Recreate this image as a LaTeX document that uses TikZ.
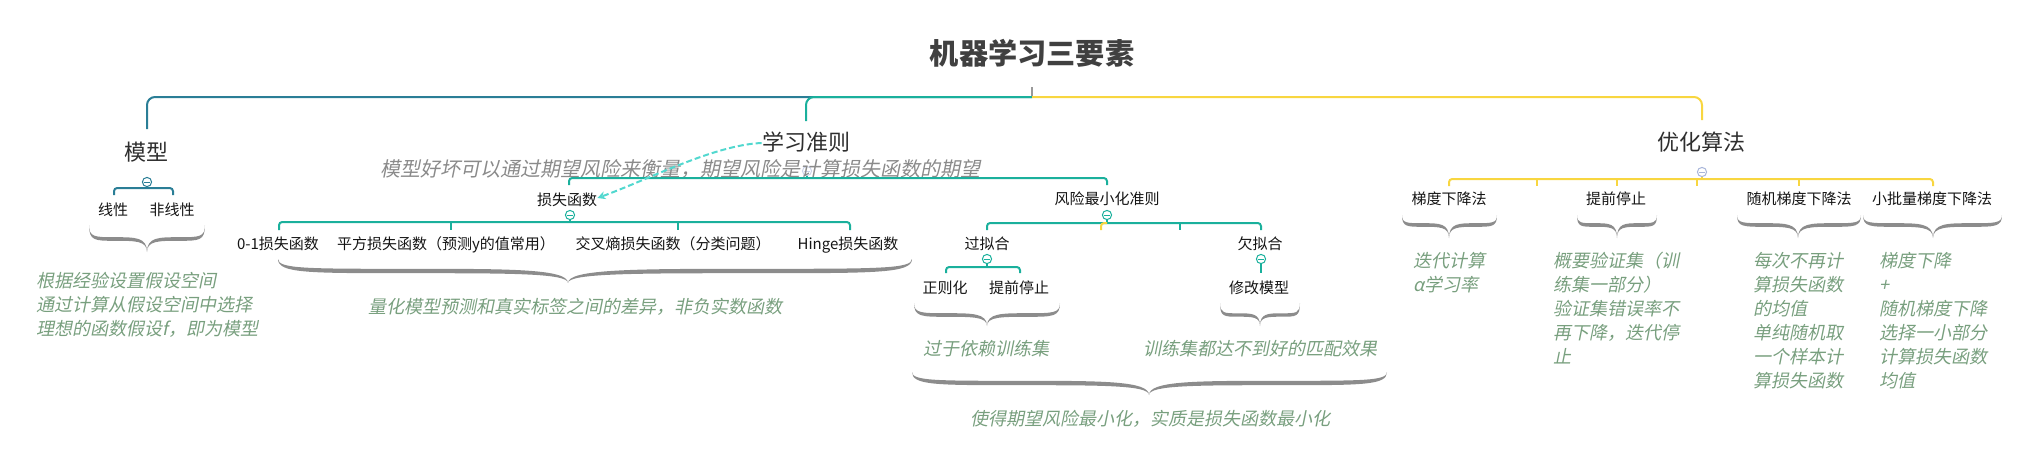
\documentclass[tikz,border=0pt]{standalone}
\usepackage{fontspec}
\setmainfont{Noto Sans CJK SC}
\newfontfamily\itf{Noto Sans CJK SC}[FakeSlant=0.2]
\usetikzlibrary{arrows.meta}
\definecolor{cM}{HTML}{2A7E96}
\definecolor{cL}{HTML}{1AB09C}
\definecolor{cY}{HTML}{F8D640}
\definecolor{cD}{HTML}{52D8CF}
\definecolor{cG}{HTML}{789F7E}
\definecolor{cN}{HTML}{8A8A8A}
\definecolor{bracecol}{HTML}{8C8C8C}
\definecolor{cC}{HTML}{A9B6DA}
\newcommand\xbrace[7]{%
 \pgfmathsetmacro\brxa{#1}\pgfmathsetmacro\brxb{#2}\pgfmathsetmacro\brxt{#3}%
 \pgfmathsetmacro\brye{#4}\pgfmathsetmacro\bryt{#6}%
 \pgfmathsetmacro\brlo{#5+#7/2}\pgfmathsetmacro\brhi{#5-#7/2}%
 \pgfmathsetmacro\brL{#3-#1}\pgfmathsetmacro\brR{#2-#3}%
 \pgfmathsetmacro\brxml{#1+0.45*\brL}\pgfmathsetmacro\brxmr{#2-0.45*\brR}%
 \pgfmathsetmacro\brcla{#1+0.1*\brL}\pgfmathsetmacro\brclb{#3-0.2*\brL}%
 \pgfmathsetmacro\brcra{#2-0.1*\brR}\pgfmathsetmacro\brcrb{#3+0.2*\brR}%
 \fill[bracecol] (\brxa,\brye)
  .. controls (\brxa,\brlo) and (\brcla,\brlo) .. (\brxml,\brlo)
  .. controls (\brclb,\brlo) and (\brxt,\brlo) .. (\brxt,\bryt)
  .. controls (\brxt,\brlo) and (\brcrb,\brlo) .. (\brxmr,\brlo)
  .. controls (\brcra,\brlo) and (\brxb,\brlo) .. (\brxb,\brye)
  .. controls (\brxb,\brhi) and (\brcra,\brhi) .. (\brxmr,\brhi)
  .. controls (\brcrb,\brhi) and (\brxt,\brhi) .. (\brxt,\bryt)
  .. controls (\brxt,\brhi) and (\brclb,\brhi) .. (\brxml,\brhi)
  .. controls (\brcla,\brhi) and (\brxa,\brhi) .. (\brxa,\brye) -- cycle;
}
\begin{document}
\begin{tikzpicture}[x=0.5pt,y=-0.5pt,
  every node/.style={inner sep=0pt},
  titl/.style={font=\bfseries\fontsize{14.6}{16}\selectfont, text=black!75},
  mainn/.style={font=\fontsize{11}{13}\selectfont, text=black!82, text height=0.88em, text depth=0.12em},
  leaf/.style={font=\fontsize{7.5}{9}\selectfont, text=black!92, text height=0.88em, text depth=0.12em},
  summ/.style={font=\itf\fontsize{9}{12}\selectfont, text=cG, align=left},
  summc/.style={font=\itf\fontsize{9}{12}\selectfont, text=cG, text height=0.88em, text depth=0.12em},
  notet/.style={font=\itf\fontsize{10}{12}\selectfont, text=cN, text height=0.88em, text depth=0.12em},
  ln/.style={line width=1pt, rounded corners=1.6pt},
  mln/.style={line width=1pt, rounded corners=4pt},
  tog/.style={circle, draw=#1, fill=white, line width=0.5pt, minimum size=4.6pt,
    path picture={\draw[#1, line width=0.45pt] ([xshift=-1.3pt]path picture bounding box.center) -- ([xshift=1.3pt]path picture bounding box.center);}},
  dasharrow/.style={cD, line width=1pt, dash pattern=on 3pt off 1.5pt, -{Stealth[length=4pt,width=4pt]}}
]
\useasboundingbox (0,0) rectangle (2020,451);

% ---------- root ----------
\node[titl] (root) at (1032,53) {机器学习三要素};
\coordinate (rstub) at (1032,87);
\coordinate (hub) at (1032,97);
\draw[black!40, line width=0.6pt] (rstub) -- (hub);

% ---------- main branches ----------
\node[mainn] (mdl) at (146,153) {模型};
\node[mainn] (lc) at (806,143) {学习准则};
\node[mainn] (opt) at (1701,143) {优化算法};
\coordinate (mdlin) at (147,129);
\coordinate (lcin) at (806,121);
\coordinate (optin) at (1702,120);
\draw[mln, cM] (hub) -| (mdlin);
\draw[mln, cL] (hub) -| (lcin);
\draw[mln, cY] (hub) -| (optin);

% ---------- 模型 ----------
\node[tog=cM] (tm) at (147,182) {};
\coordinate (tmj) at (147,188);
\coordinate (lin-in) at (114,195);
\coordinate (nlin-in) at (173,195);
\draw[ln, cM] (tm.south) -- (tmj);
\draw[ln, cM] (lin-in) |- (tmj) -| (nlin-in);
\node[leaf] (lin) at (113,208) {线性};
\node[leaf] (nlin) at (172,208) {非线性};
\xbrace{89}{205}{147}{225}{239}{252}{3.6}
\node[summ, anchor=north west] (mdlsum) at (36,272) {根据经验设置假设空间\\通过计算从假设空间中选择\\理想的函数假设f，即为模型};

% ---------- 学习准则 ----------
\node[tog=cC, draw opacity=0.6] (tl) at (807,171) {};
\node[notet] (note) at (680,169) {模型好坏可以通过期望风险来衡量，期望风险是计算损失函数的期望};
\coordinate (tlj) at (807,178);
\coordinate (lf-in) at (569,185);
\coordinate (rm-in) at (1107,185);
\draw[ln, cL] (tl.south) -- (tlj);
\draw[ln, cL] (lf-in) |- (tlj) -| (rm-in);

\node[leaf] (lf) at (567,198) {损失函数};
\node[leaf] (rm) at (1107,197) {风险最小化准则};
\draw[dasharrow] (lc.west) .. controls +(-48,2) and +(50,-18) .. (lf.east);

% 损失函数 subtree
\node[tog=cL] (tlf) at (570,215) {};
\coordinate (tlfj) at (570,222);
\coordinate (l1in) at (279,230);
\coordinate (l2in) at (451,230);
\coordinate (l3in) at (678,230);
\coordinate (l4in) at (850,230);
\coordinate (l2j) at (451,222);
\coordinate (l3j) at (678,222);
\draw[ln, cL] (tlf.south) -- (tlfj);
\draw[ln, cL] (l1in) |- (tlfj) -| (l4in);
\draw[ln, cL] (l2j) -- (l2in);
\draw[ln, cL] (l3j) -- (l3in);
\node[leaf] (l1) at (278,242) {0-1损失函数};
\node[leaf] (l2) at (446,242) {平方损失函数（预测y的值常用）};
\node[leaf] (l3) at (673,242) {交叉熵损失函数（分类问题）};
\node[leaf] (l4) at (848,242) {Hinge损失函数};
\xbrace{278}{912}{568}{259}{271}{283}{4.4}
\node[summc] (lfsum) at (575,306) {量化模型预测和真实标签之间的差异，非负实数函数};

% 风险最小化准则 subtree
\node[tog=cL] (trm) at (1107,215) {};
\coordinate (trmj) at (1107,223);
\coordinate (of-in) at (987,230);
\coordinate (uf-in) at (1261,230);
\coordinate (ex1) at (1101,230);
\coordinate (ex2a) at (1180,223);
\coordinate (ex2) at (1180,230);
\draw[ln, cL] (trm.south) -- (trmj);
\draw[ln, cL] (of-in) |- (trmj) -| (uf-in);
\draw[ln, cY] (trmj) -| (ex1);
\draw[ln, cL] (ex2a) -- (ex2);
\node[leaf] (of) at (987,242) {过拟合};
\node[leaf] (uf) at (1260,242) {欠拟合};

\node[tog=cL] (tof) at (987,259) {};
\coordinate (tofj) at (987,267);
\coordinate (reg-in) at (946,273);
\coordinate (es-in) at (1020,273);
\draw[ln, cL] (tof.south) -- (tofj);
\draw[ln, cL] (reg-in) |- (tofj) -| (es-in);
\node[leaf] (reg) at (945,286) {正则化};
\node[leaf] (es) at (1019,286) {提前停止};
\xbrace{914}{1060}{987}{303}{315}{326}{3.6}
\node[summc] (ofsum) at (986,348) {过于依赖训练集};

\node[tog=cL] (tuf) at (1261,259) {};
\coordinate (mm-in) at (1261,273);
\draw[ln, cL] (tuf.south) -- (mm-in);
\node[leaf] (mm) at (1259,286) {修改模型};
\xbrace{1220}{1300}{1260}{303}{315}{326}{3.4}
\node[summc] (ufsum) at (1260,348) {训练集都达不到好的匹配效果};

\xbrace{912}{1387}{1149}{372}{383}{395}{4.4}
\node[summc] (rmsum) at (1150,418) {使得期望风险最小化，实质是损失函数最小化};

% ---------- 优化算法 ----------
\node[tog=cC] (topt) at (1702,172) {};
\coordinate (toptj) at (1702,179);
\coordinate (g1in) at (1449,186);
\coordinate (g6in) at (1933,186);
\draw[ln, cY] (topt.south) -- (toptj);
\draw[ln, cY] (g1in) |- (toptj) -| (g6in);
\foreach \sx [count=\si] in {1537,1617,1697,1799} {
  \coordinate (gs\si a) at (\sx,179);
  \coordinate (gs\si b) at (\sx,186);
  \draw[ln, cY] (gs\si a) -- (gs\si b);
}
\node[leaf] (g1) at (1449,197) {梯度下降法};
\node[leaf] (g2) at (1616,197) {提前停止};
\node[leaf] (g3) at (1799,197) {随机梯度下降法};
\node[leaf] (g4) at (1932,197) {小批量梯度下降法};
\xbrace{1402}{1497}{1449}{215}{225}{238}{3.6}
\xbrace{1577}{1657}{1617}{215}{225}{238}{3.6}
\xbrace{1737}{1861}{1798}{215}{225}{238}{3.6}
\xbrace{1863}{2002}{1933}{215}{225}{238}{3.6}
\node[summ, anchor=north west] (g1sum) at (1413,252) {迭代计算\\α学习率};
\node[summ, anchor=north west] (g2sum) at (1553,252) {概要验证集（训\\练集一部分）\\验证集错误率不\\再下降，迭代停\\止};
\node[summ, anchor=north west] (g3sum) at (1753,252) {每次不再计\\算损失函数\\的均值\\单纯随机取\\一个样本计\\算损失函数};
\node[summ, anchor=north west] (g4sum) at (1879,252) {梯度下降\\+\\随机梯度下降\\选择一小部分\\计算损失函数\\均值};
\end{tikzpicture}
\end{document}
